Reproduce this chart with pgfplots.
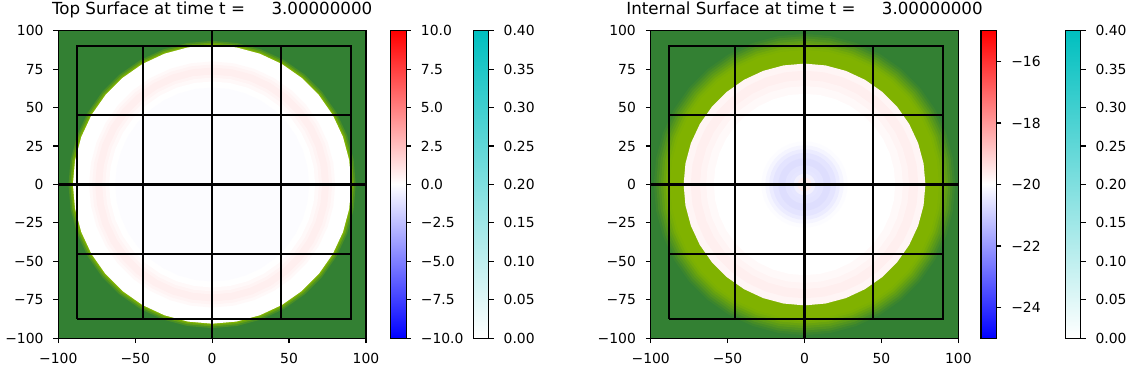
\documentclass[border=0pt]{standalone}
\usepackage{fontspec}
\setmainfont{DejaVu Sans}
\usepackage{pgfplots}
\usepackage{pgfplotstable}
\pgfplotsset{compat=1.18}

\definecolor{landg}{rgb}{0.2,0.5,0.2}
\definecolor{limeg}{rgb}{0.5,0.7,0}
\definecolor{pkA}{RGB}{255,249,249}
\definecolor{pkM}{RGB}{255,244,244}
\definecolor{pkB}{RGB}{255,239,239}
\definecolor{pkC}{RGB}{255,245,245}
\definecolor{blA}{RGB}{252,252,255}
\definecolor{blB}{RGB}{245,245,255}
\definecolor{blC}{RGB}{236,236,255}
\definecolor{blD}{RGB}{228,228,255}
\definecolor{blE}{RGB}{222,222,254}
\definecolor{blF}{RGB}{230,230,255}
\definecolor{blG}{RGB}{242,240,253}
\definecolor{pkD}{RGB}{255,236,236}

\pgfplotstableread{
x y
1 0
0.98481 0.17365
0.93969 0.34202
0.86603 0.5
0.76604 0.64279
0.64279 0.76604
0.5 0.86603
0.34202 0.93969
0.17365 0.98481
0 1
-0.17365 0.98481
-0.34202 0.93969
-0.5 0.86603
-0.64279 0.76604
-0.76604 0.64279
-0.86603 0.5
-0.93969 0.34202
-0.98481 0.17365
-1 0
-0.98481 -0.17365
-0.93969 -0.34202
-0.86603 -0.5
-0.76604 -0.64279
-0.64279 -0.76604
-0.5 -0.86603
-0.34202 -0.93969
-0.17365 -0.98481
0 -1
0.17365 -0.98481
0.34202 -0.93969
0.5 -0.86603
0.64279 -0.76604
0.76604 -0.64279
0.86603 -0.5
0.93969 -0.34202
0.98481 -0.17365
1 0
}\unitcircle

\newcommand{\disk}[2]{\addplot[draw=none, fill=#2, forget plot] table[x expr=\thisrow{x}*#1, y expr=\thisrow{y}*#1] {\unitcircle};}

\newcommand{\patchgrid}{%
\addplot[black, line width=1.5bp, mark=none] coordinates {(-88,-87.2) (90,-87.2) (90,90.2) (-88,90.2) (-88,-87.2)};
\addplot[black, line width=1.5bp, mark=none] coordinates {(-45,-87.2) (-45,90.2)};
\addplot[black, line width=1.5bp, mark=none] coordinates {(44.8,-87.2) (44.8,90.2)};
\addplot[black, line width=1.5bp, mark=none] coordinates {(0,-100) (0,100)};
\addplot[black, line width=1.5bp, mark=none] coordinates {(-88,45.2) (90,45.2)};
\addplot[black, line width=1.5bp, mark=none] coordinates {(-88,-45.1) (90,-45.1)};
\addplot[black, line width=1.5bp, mark=none] coordinates {(-100,0) (100,0)};
}

\pgfplotsset{
  mainax/.style={anchor=south west, scale only axis, width=221.5bp, height=221.5bp,
    xmin=-100, xmax=100, ymin=-100, ymax=100,
    axis background/.style={fill=landg}, axis on top,
    tick pos=left, tick align=outside, major tick length=3.5bp,
    tick style={black, line width=0.8bp}, axis line style={line width=0.8bp},
    xtick={-100,-50,0,50,100}, xticklabels={−100,−50,0,50,100},
    ytick={-100,-75,...,100}, yticklabels={−100,−75,−50,−25,0,25,50,75,100},
    tick label style={font=\fontsize{10bp}{12bp}\selectfont, inner sep=0pt},
    xticklabel style={anchor=north, yshift=-7bp},
    yticklabel style={anchor=east, xshift=-7bp},
    title style={font=\fontsize{12bp}{14bp}\selectfont, at={(0.5,1)}, anchor=base, yshift=6bp, inner sep=0pt}},
  cbax/.style={anchor=south west, scale only axis, width=11.16bp, height=221.5bp,
    xmin=0, xmax=1, xtick=\empty, axis on top,
    ytick pos=right, yticklabel pos=right, tick align=outside, major tick length=3.5bp,
    tick style={black, line width=0.8bp}, axis line style={line width=0.8bp},
    tick label style={font=\fontsize{10bp}{12bp}\selectfont, inner sep=0pt},
    yticklabel style={anchor=west, xshift=7bp}},
}

\begin{document}
\begin{tikzpicture}
\path[use as bounding box, fill=white] (0,0) rectangle (814.32bp,267.84bp);

% ---------------- left panel ----------------
\begin{axis}[mainax, at={(41.98bp,24.26bp)}, title={Top Surface at time t =~~~~~3.00000000}]
\disk{93.4}{limeg!30!landg}
\disk{92.3}{limeg!65!landg}
\disk{91.3}{limeg}
\disk{90.5}{white}
\disk{80}{pkA}
\disk{78}{pkM}
\disk{76}{pkB}
\disk{71.5}{pkM}
\disk{69.5}{pkA}
\disk{67}{white}
\disk{63}{blA}
\patchgrid
\end{axis}

\begin{axis}[cbax, at={(281.2bp,24.26bp)}, ymin=-10, ymax=10,
  ytick={-10,-7.5,...,10}, yticklabels={−10.0,−7.5,−5.0,−2.5,0.0,2.5,5.0,7.5,10.0},
  colormap={bwr}{rgb=(0,0,1) rgb=(1,1,1) rgb=(1,0,0)}]
\addplot[surf, shader=interp, mesh/cols=2, point meta=\thisrow{v}] table {
x y v
0 -10 -10
1 -10 -10
0 0 0
1 0 0
0 10 10
1 10 10
};
\end{axis}

\begin{axis}[cbax, at={(340.8bp,24.26bp)}, ymin=0, ymax=0.4,
  ytick={0,0.05,...,0.4}, yticklabels={0.00,0.05,0.10,0.15,0.20,0.25,0.30,0.35,0.40},
  colormap={spd}{rgb=(1,1,1) rgb=(0,0.75,0.75)}]
\addplot[surf, shader=interp, mesh/cols=2, point meta=\thisrow{v}] table {
x y v
0 0 0
1 0 0
0 0.4 0.4
1 0.4 0.4
};
\end{axis}

% ---------------- right panel ----------------
\begin{axis}[mainax, at={(468.5bp,24.26bp)}, title={Internal Surface at time t =~~~~~3.00000000}]
\disk{98}{limeg!10!landg}
\disk{96.5}{limeg!25!landg}
\disk{95}{limeg!40!landg}
\disk{93.5}{limeg!55!landg}
\disk{92}{limeg!70!landg}
\disk{90.5}{limeg!85!landg}
\disk{89}{limeg!95!landg}
\disk{87.5}{limeg}
\disk{78.6}{pkC}
\disk{74}{pkB}
\disk{68}{pkM}
\disk{64}{pkA}
\disk{59}{white}
\disk{28}{blA}
\disk{25.5}{blB}
\disk{23}{blC}
\disk{20.5}{blD}
\disk{17}{blE}
\disk{12.5}{blD}
\disk{9.5}{blF}
\disk{7}{blG}
\disk{4.5}{pkD}
\patchgrid
\end{axis}

\begin{axis}[cbax, at={(706.3bp,24.26bp)}, ymin=-25, ymax=-15,
  ytick={-24,-22,-20,-18,-16}, yticklabels={−24,−22,−20,−18,−16},
  colormap={bwr}{rgb=(0,0,1) rgb=(1,1,1) rgb=(1,0,0)}]
\addplot[surf, shader=interp, mesh/cols=2, point meta=\thisrow{v}] table {
x y v
0 -25 -25
1 -25 -25
0 -20 -20
1 -20 -20
0 -15 -15
1 -15 -15
};
\end{axis}

\begin{axis}[cbax, at={(767.0bp,24.26bp)}, ymin=0, ymax=0.4,
  ytick={0,0.05,...,0.4}, yticklabels={0.00,0.05,0.10,0.15,0.20,0.25,0.30,0.35,0.40},
  colormap={spd}{rgb=(1,1,1) rgb=(0,0.75,0.75)}]
\addplot[surf, shader=interp, mesh/cols=2, point meta=\thisrow{v}] table {
x y v
0 0 0
1 0 0
0 0.4 0.4
1 0.4 0.4
};
\end{axis}
\end{tikzpicture}
\end{document}
